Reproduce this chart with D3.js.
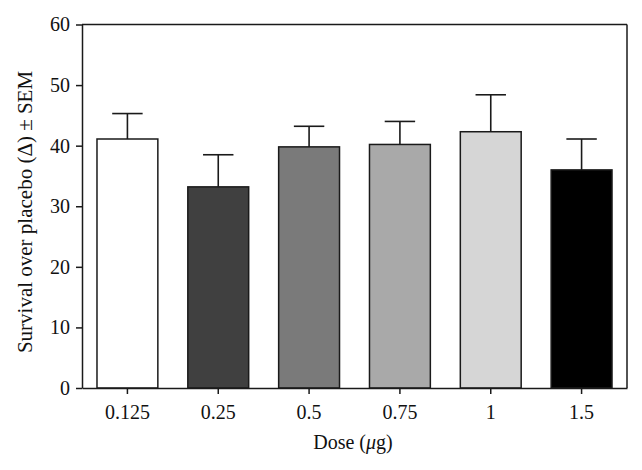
<!DOCTYPE html>
<html>
<head>
<meta charset="utf-8">
<script src="https://cdn.jsdelivr.net/npm/d3@7"></script>
<style>
  body { margin: 0; background: #fff; }
  svg { display: block; }
  text { font-family: "Liberation Serif", "DejaVu Serif", serif; fill: #111; }
</style>
</head>
<body>
<svg id="chart" width="642" height="470"></svg>
<script>
const doses = ["0.125", "0.25", "0.5", "0.75", "1", "1.5"];
const means = [41.1, 33.2, 39.8, 40.2, 42.3, 36.0];
const sems = [4.2, 5.3, 3.4, 3.8, 6.1, 5.1];
const fills = ["#ffffff", "#404040", "#7a7a7a", "#a9a9a9", "#d6d6d6", "#000000"];
const yTicks = [0, 10, 20, 30, 40, 50, 60];

const svg = d3.select("#chart");
const m = { left: 82, right: 627, top: 24.5, bottom: 388 };

const x = d3.scaleBand().domain(doses).range([m.left, m.right]).paddingInner(0.33).paddingOuter(0.165);
const y = d3.scaleLinear().domain([0, 60]).range([m.bottom, m.top]);

const stroke = "#1a1a1a";

// bars
svg.append("g").selectAll("rect").data(doses).join("rect")
  .attr("x", d => x(d))
  .attr("y", (d, i) => y(means[i]))
  .attr("width", x.bandwidth())
  .attr("height", (d, i) => y(0) - y(means[i]))
  .attr("fill", (d, i) => fills[i])
  .attr("stroke", stroke)
  .attr("stroke-width", 1.5);

// error bars (upper only)
const eg = svg.append("g").attr("stroke", stroke).attr("stroke-width", 1.6);
doses.forEach((d, i) => {
  const cx = x(d) + x.bandwidth() / 2;
  const cw = x.bandwidth() / 4;
  eg.append("line").attr("x1", cx).attr("x2", cx).attr("y1", y(means[i])).attr("y2", y(means[i] + sems[i]));
  eg.append("line").attr("x1", cx - cw).attr("x2", cx + cw).attr("y1", y(means[i] + sems[i])).attr("y2", y(means[i] + sems[i]));
});

// frame (top and right)
svg.append("line").attr("x1", m.left).attr("x2", m.right).attr("y1", m.top).attr("y2", m.top).attr("stroke", stroke).attr("stroke-width", 1.5);
svg.append("line").attr("x1", m.right).attr("x2", m.right).attr("y1", m.top).attr("y2", m.bottom).attr("stroke", stroke).attr("stroke-width", 1.5);

// y axis
const yAxis = svg.append("g").attr("transform", `translate(${m.left},0)`)
  .call(d3.axisLeft(y).tickValues(yTicks).tickSize(6).tickPadding(6).tickSizeOuter(0));
yAxis.select(".domain").attr("stroke", stroke).attr("stroke-width", 1.5);
yAxis.selectAll(".tick line").attr("stroke", stroke).attr("stroke-width", 1.5);
yAxis.selectAll(".tick text").attr("font-size", 20).attr("font-family", "Liberation Serif, serif").attr("fill", "#111");

// x axis
const xAxis = svg.append("g").attr("transform", `translate(0,${m.bottom})`)
  .call(d3.axisBottom(x).tickSize(6).tickPadding(11).tickSizeOuter(0));
xAxis.select(".domain").attr("stroke", stroke).attr("stroke-width", 1.5);
xAxis.selectAll(".tick line").attr("stroke", stroke).attr("stroke-width", 1.5);
xAxis.selectAll(".tick text").attr("font-size", 20).attr("font-family", "Liberation Serif, serif").attr("fill", "#111");

// axis titles
const xt = svg.append("text").attr("x", 353).attr("y", 449)
  .attr("text-anchor", "middle").attr("font-size", 20);
xt.append("tspan").text("Dose (");
xt.append("tspan").attr("font-style", "italic").text("μ");
xt.append("tspan").text("g)");

svg.append("text").attr("transform", "translate(32,212) rotate(-90)")
  .attr("text-anchor", "middle").attr("font-size", 21)
  .text("Survival over placebo (Δ) ± SEM");
</script>
</body>
</html>
